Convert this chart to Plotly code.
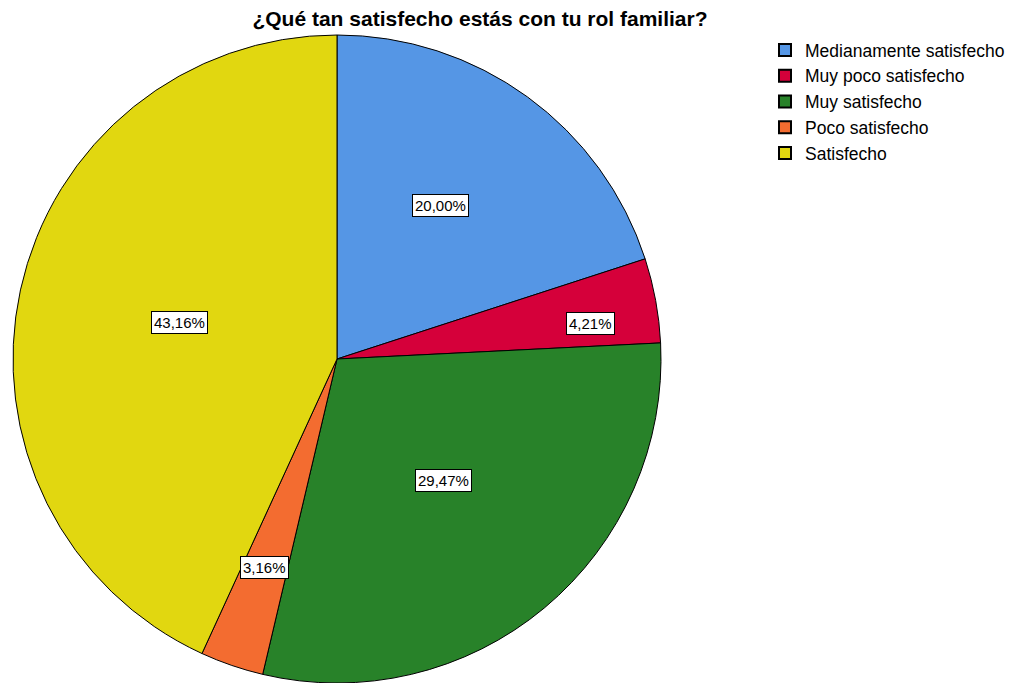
import math
import plotly.graph_objects as go

# Survey answers: "¿Qué tan satisfecho estás con tu rol familiar?"
categories = ["Medianamente satisfecho", "Muy poco satisfecho", "Muy satisfecho",
              "Poco satisfecho", "Satisfecho"]
counts = [19, 4, 28, 3, 41]
colors = ["#5596E5", "#D5003A", "#288229", "#F36C30", "#E1D710"]

# placement of each percentage box: (fraction of pie radius, angular offset in degrees)
label_radius = [0.57, 0.79, 0.50, 0.68, 0.50]
label_shift = [-2, 2.5, -1.5, 0.3, 0.8]

W, H = 1020, 683
cx_px, cy_px, r_px = 337, 359, 324
FONT = "Liberation Sans, Arial"

fig = go.Figure(go.Pie(
    labels=categories,
    values=counts,
    sort=False,
    direction="clockwise",
    rotation=0,
    marker=dict(colors=colors, line=dict(color="black", width=1)),
    textinfo="none",
    hoverinfo="label+percent",
    domain=dict(x=[(cx_px - r_px) / W, (cx_px + r_px) / W],
                y=[1 - (cy_px + r_px) / H, 1 - (cy_px - r_px) / H]),
))

total = sum(counts)
cum = 0
for v, f, d in zip(counts, label_radius, label_shift):
    pct = 100 * v / total
    mid = (cum + v / 2) / total * 2 * math.pi + math.radians(d)
    cum += v
    x_px = cx_px + f * r_px * math.sin(mid)
    y_px = cy_px - f * r_px * math.cos(mid)
    fig.add_annotation(
        x=x_px / W, y=1 - y_px / H, xref="paper", yref="paper",
        xanchor="center", yanchor="middle",
        text=f"{pct:.2f}%".replace(".", ","),
        showarrow=False,
        font=dict(family=FONT, size=15, color="black"),
        bgcolor="white", bordercolor="black", borderwidth=1, borderpad=2,
    )

fig.update_layout(
    width=W, height=H,
    margin=dict(l=0, r=0, t=0, b=0),
    paper_bgcolor="white",
    title=dict(text="<b>¿Qué tan satisfecho estás con tu rol familiar?</b>",
               x=480 / W, xanchor="center", y=1 - 19 / H, yanchor="middle",
               font=dict(family=FONT, size=21, color="black")),
    legend=dict(x=765 / W, xanchor="left", y=1 - 32 / H, yanchor="top",
                font=dict(family=FONT, size=17.5, color="black"),
                itemsizing="constant", bgcolor="rgba(0,0,0,0)"),
    showlegend=True,
)

fig.write_html("out.html")
